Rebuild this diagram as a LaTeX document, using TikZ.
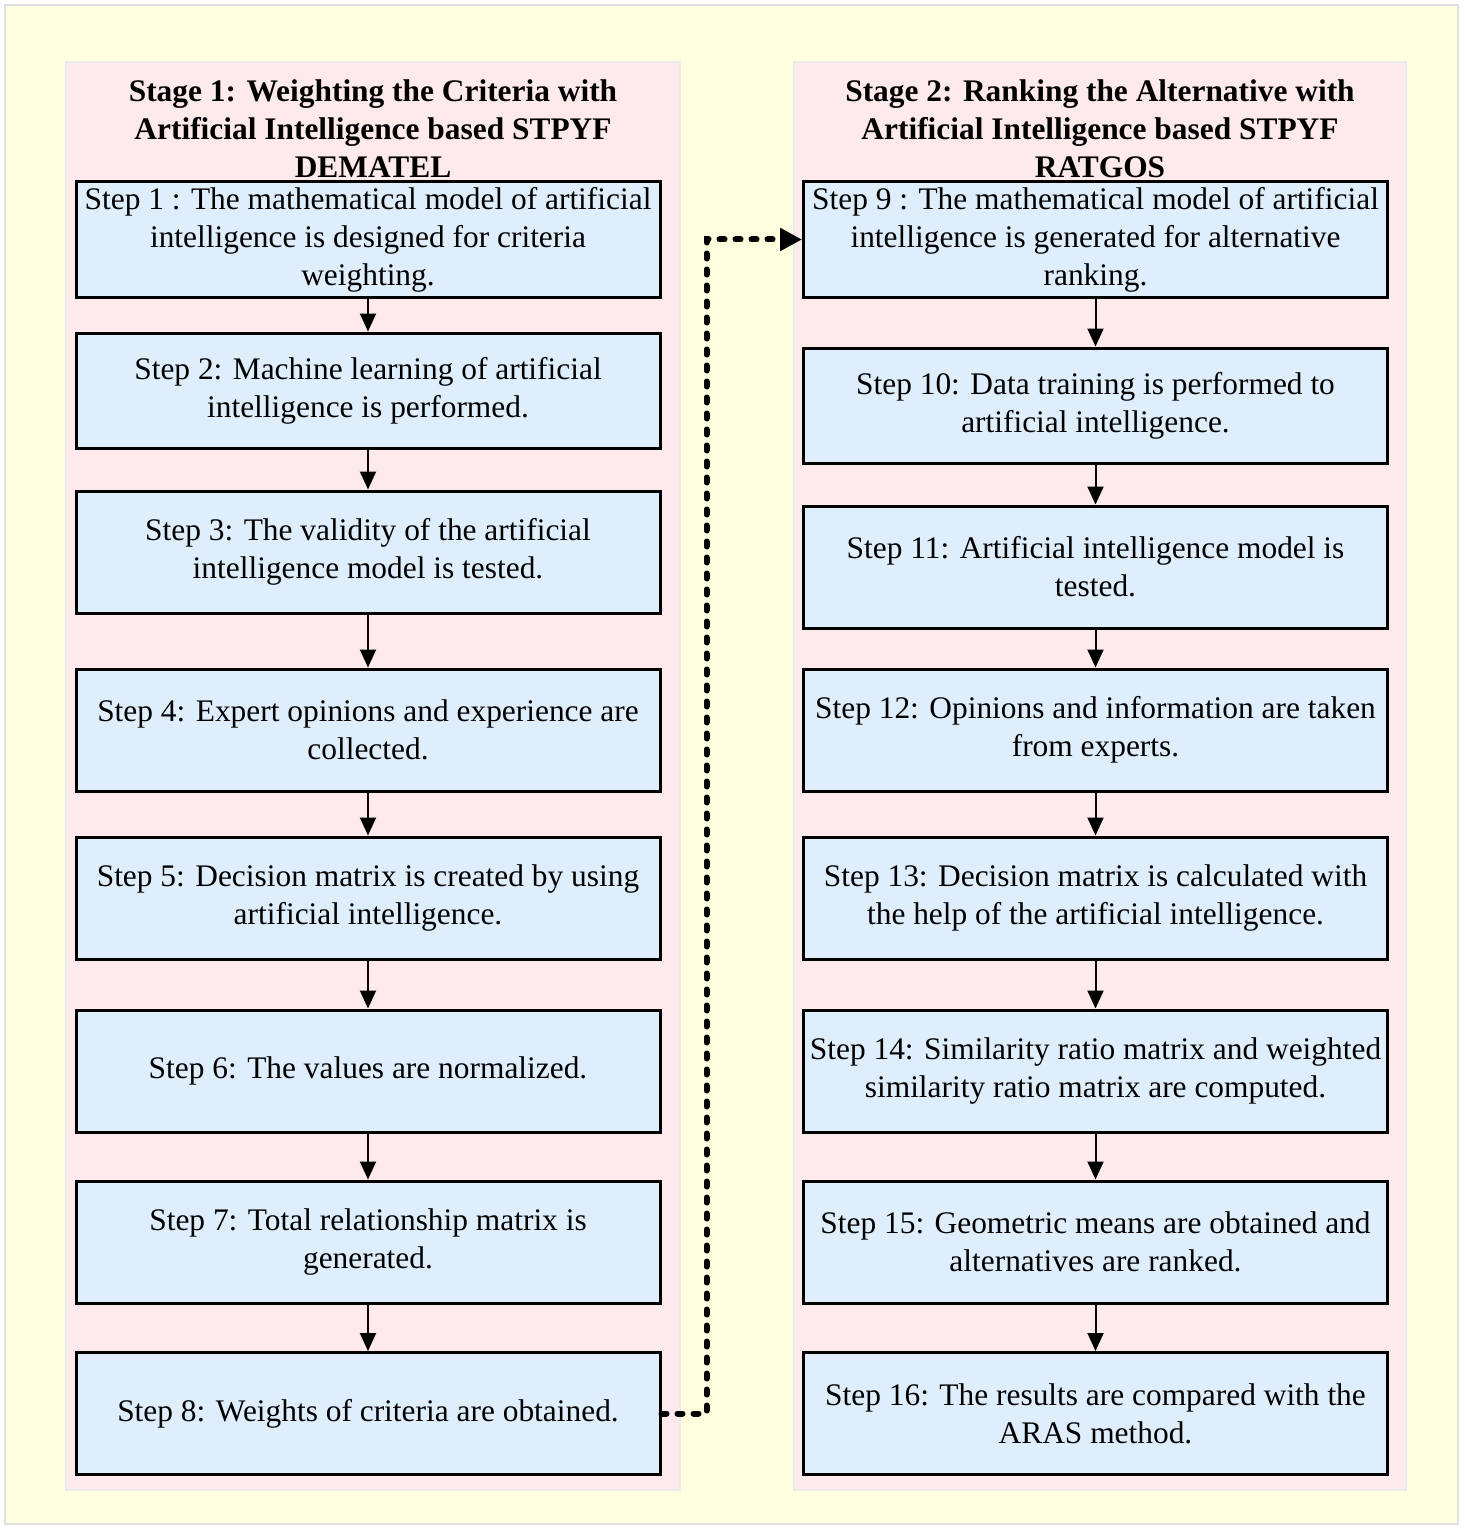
\documentclass[tikz,border=0pt]{standalone}
\usepackage{fontspec}
\setmainfont{Liberation Serif}
\usetikzlibrary{arrows.meta}
\definecolor{bgyellow}{RGB}{255,255,224}
\definecolor{panelpink}{RGB}{254,234,234}
\definecolor{boxblue}{RGB}{223,238,252}
\tikzset{
  stepbox/.style={draw=black, line width=1.5pt, fill=boxblue, minimum width=292pt, align=center, inner sep=0pt, font=\fontsize{15.7}{19}\selectfont},
  stagetitle/.style={align=center, inner sep=0pt, font=\fontsize{15.7}{19}\selectfont\bfseries},
  flowarrow/.style={line width=1pt, -{Triangle[length=9pt,width=8pt]}},
  linkarrow/.style={line width=3pt, dash pattern=on 2.5pt off 5.5pt, line cap=round, -{Triangle[length=11pt,width=11pt,line cap=butt]}}
}
\begin{document}
\begin{tikzpicture}[x=0.5pt,y=-0.5pt]
  \useasboundingbox (0,0) rectangle (1464,1530);
  \draw[draw=black!12, line width=1pt, fill=bgyellow] (5,5) rectangle (1458,1524);
  \draw[draw=black!8, line width=1pt, fill=panelpink] (66,62) rectangle (680,1490);
  \draw[draw=black!8, line width=1pt, fill=panelpink] (794,62) rectangle (1406,1490);

  \node[stagetitle] (title1) at (373,129) {Stage 1: Weighting the Criteria with\\Artificial Intelligence based STPYF\\DEMATEL};
  \node[stagetitle] (title2) at (1100,129) {Stage 2: Ranking the Alternative with\\Artificial Intelligence based STPYF\\RATGOS};

  \node[stepbox, minimum height=57.5pt] (s1) at (368,239.5) {Step 1 : The mathematical model of artificial\\intelligence is designed for criteria\\weighting.};
  \node[stepbox, minimum height=57.5pt] (s2) at (368,390.5) {Step 2: Machine learning of artificial\\intelligence is performed.};
  \node[stepbox, minimum height=61pt] (s3) at (368,552) {Step 3: The validity of the artificial\\intelligence model is tested.};
  \node[stepbox, minimum height=61pt] (s4) at (368,730) {Step 4: Expert opinions and experience are\\collected.};
  \node[stepbox, minimum height=61pt] (s5) at (368,898) {Step 5: Decision matrix is created by using\\artificial intelligence.};
  \node[stepbox, minimum height=61pt] (s6) at (368,1071) {Step 6: The values are normalized.};
  \node[stepbox, minimum height=61pt] (s7) at (368,1242) {Step 7: Total relationship matrix is\\generated.};
  \node[stepbox, minimum height=61pt] (s8) at (368,1413.5) {Step 8: Weights of criteria are obtained.};

  \node[stepbox, minimum height=57.5pt] (s9) at (1095.5,239.5) {Step 9 : The mathematical model of artificial\\intelligence is generated for alternative\\ranking.};
  \node[stepbox, minimum height=57.5pt] (s10) at (1095.5,405.5) {Step 10: Data training is performed to\\artificial intelligence.};
  \node[stepbox, minimum height=61pt] (s11) at (1095.5,567) {Step 11: Artificial intelligence model is\\tested.};
  \node[stepbox, minimum height=61pt] (s12) at (1095.5,730) {Step 12: Opinions and information are taken\\from experts.};
  \node[stepbox, minimum height=61pt] (s13) at (1095.5,898) {Step 13: Decision matrix is calculated with\\the help of the artificial intelligence.};
  \node[stepbox, minimum height=61pt] (s14) at (1095.5,1071) {Step 14: Similarity ratio matrix and weighted\\similarity ratio matrix are computed.};
  \node[stepbox, minimum height=61pt] (s15) at (1095.5,1242) {Step 15: Geometric means are obtained and\\alternatives are ranked.};
  \node[stepbox, minimum height=61pt] (s16) at (1095.5,1413.5) {Step 16: The results are compared with the\\ARAS method.};

  \draw[flowarrow] (s1.south) -- (s2.north);
  \draw[flowarrow] (s2.south) -- (s3.north);
  \draw[flowarrow] (s3.south) -- (s4.north);
  \draw[flowarrow] (s4.south) -- (s5.north);
  \draw[flowarrow] (s5.south) -- (s6.north);
  \draw[flowarrow] (s6.south) -- (s7.north);
  \draw[flowarrow] (s7.south) -- (s8.north);
  \draw[flowarrow] (s9.south) -- (s10.north);
  \draw[flowarrow] (s10.south) -- (s11.north);
  \draw[flowarrow] (s11.south) -- (s12.north);
  \draw[flowarrow] (s12.south) -- (s13.north);
  \draw[flowarrow] (s13.south) -- (s14.north);
  \draw[flowarrow] (s14.south) -- (s15.north);
  \draw[flowarrow] (s15.south) -- (s16.north);

  \draw[linkarrow] (s8.east) -- ++(45,0) |- (s9.west);
\end{tikzpicture}
\end{document}
